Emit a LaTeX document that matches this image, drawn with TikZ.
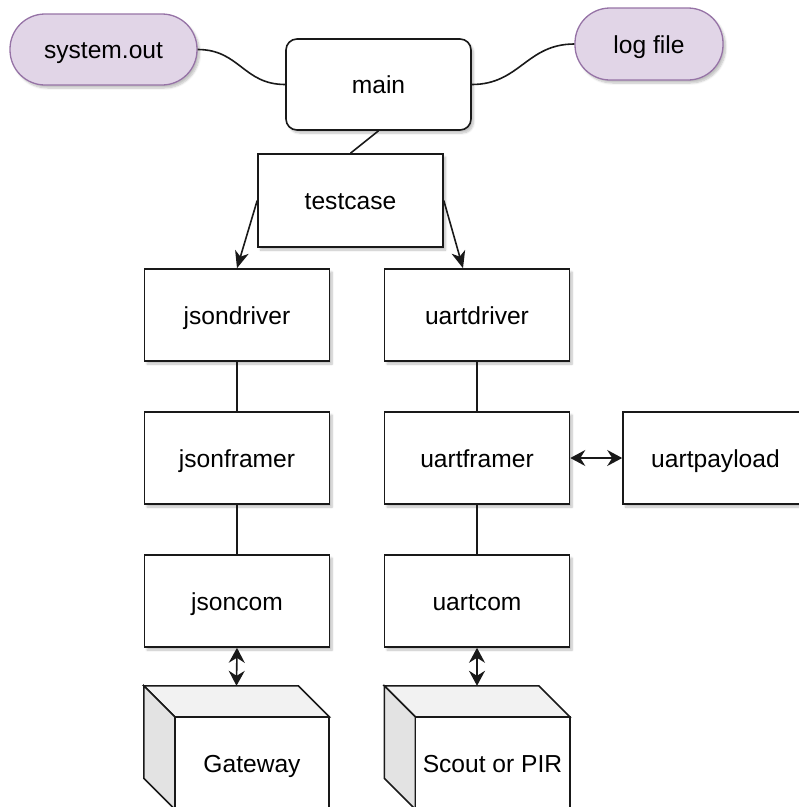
\documentclass[tikz,border=0pt]{standalone}
\usepackage{fontspec}
\setmainfont{Liberation Sans}
\usetikzlibrary{arrows.meta,calc,shadows.blur}

\definecolor{lilacfill}{HTML}{E1D5E7}
\definecolor{lilacline}{HTML}{9673A6}

% three faces of a device cube, drawn inside the frame of node #1
\newcommand\devicecube[1]{%
  \filldraw[cubeline, fill=black!5]
    (#1.north west) -- ($(#1.north east)+(-31,0)$) -- ($(#1.north east)+(0,31)$)
    -- ($(#1.north west)+(31,31)$) -- cycle;
  \filldraw[cubeline, fill=black!11]
    (#1.north west) -- ($(#1.north west)+(31,31)$) -- ($(#1.south west)+(31,0)$)
    -- ($(#1.south west)+(0,-31)$) -- cycle;
  \filldraw[cubeline, fill=white]
    ($(#1.north west)+(31,31)$) rectangle (#1.south east);
}

\begin{document}
\begin{tikzpicture}[x=1pt,y=-1pt,
  font=\fontsize{24.6}{29}\selectfont,
  every node/.append style={text height=23pt, text depth=5pt},
  soft/.style={blur shadow={shadow xshift=2.5pt, shadow yshift=-3pt,
      shadow opacity=25, shadow blur steps=6}},
  box/.style={draw=black!90, line width=1.6pt, fill=white, soft,
      minimum width=185pt, minimum height=92pt, inner sep=0pt},
  mainbox/.style={box, rounded corners=11pt, minimum height=91pt},
  capsule/.style={draw=lilacline, line width=1.3pt, fill=lilacfill, soft,
      rounded corners=35pt, inner sep=0pt},
  cubebox/.style={minimum width=185pt, minimum height=123pt, inner sep=0pt},
  cubeline/.style={draw=black!90, line width=1.6pt, line join=miter},
  conn/.style={draw=black!90, line width=1.6pt},
  tip/.tip={Stealth[length=17pt, width=14pt, inset=5pt]},
  dtip/.tip={Stealth[length=15pt, width=16pt, inset=5pt]},
  arr/.style={conn, -tip},
  dbl/.style={conn, dtip-dtip},
]
\clip (0,0) rectangle (799,807);

% outputs and main program
\node[capsule, minimum width=187pt, minimum height=71pt] (sysout) at (103.5,49.5) {system.out};
\node[capsule, minimum width=148pt, minimum height=72pt] (logfile) at (649,44) {log file};
\node[mainbox] (main) at (378.5,84.5) {main};
\node[box, minimum height=93pt] (testcase) at (350.5,200.5) {testcase};

% json stack
\node[box] (jsondriver) at (237,315) {jsondriver};
\node[box] (jsonframer) at (237,458) {jsonframer};
\node[box] (jsoncom) at (237,601) {jsoncom};

% uart stack
\node[box] (uartdriver) at (477,315) {uartdriver};
\node[box] (uartframer) at (477,458) {uartframer};
\node[box] (uartcom) at (477,601) {uartcom};
\node[box] (uartpayload) at (715.5,458) {uartpayload};

% devices
\node[cubebox] (gateway) at (236.5,747.5) {};
\node[cubebox] (scout) at (477,747.5) {};
\devicecube{gateway}
\devicecube{scout}
\node (gatewaytext) at ($(gateway.center)+(15.5,15.5)$) {Gateway};
\node (scouttext) at ($(scout.center)+(15.5,15.5)$) {Scout or PIR};

% connectors
\draw[conn] (sysout.east) .. controls +(42,0) and +(-42,0) .. (main.west);
\draw[conn] (main.east) .. controls +(48,0) and +(-48,0) .. (logfile.west);
\draw[conn] (main.south) -- (testcase.north);
\draw[arr] (testcase.west) -- (jsondriver.north);
\draw[arr] (testcase.east) -- ($(uartdriver.north)+(-14,0)$);
\draw[conn] (jsondriver.south) -- (jsonframer.north);
\draw[conn] (jsonframer.south) -- (jsoncom.north);
\draw[conn] (uartdriver.south) -- (uartframer.north);
\draw[conn] (uartframer.south) -- (uartcom.north);
\draw[dbl] (uartframer.east) -- (uartpayload.west);
\draw[dbl] (jsoncom.south) -- (gateway.north);
\draw[dbl] (uartcom.south) -- (scout.north);
\end{tikzpicture}
\end{document}
